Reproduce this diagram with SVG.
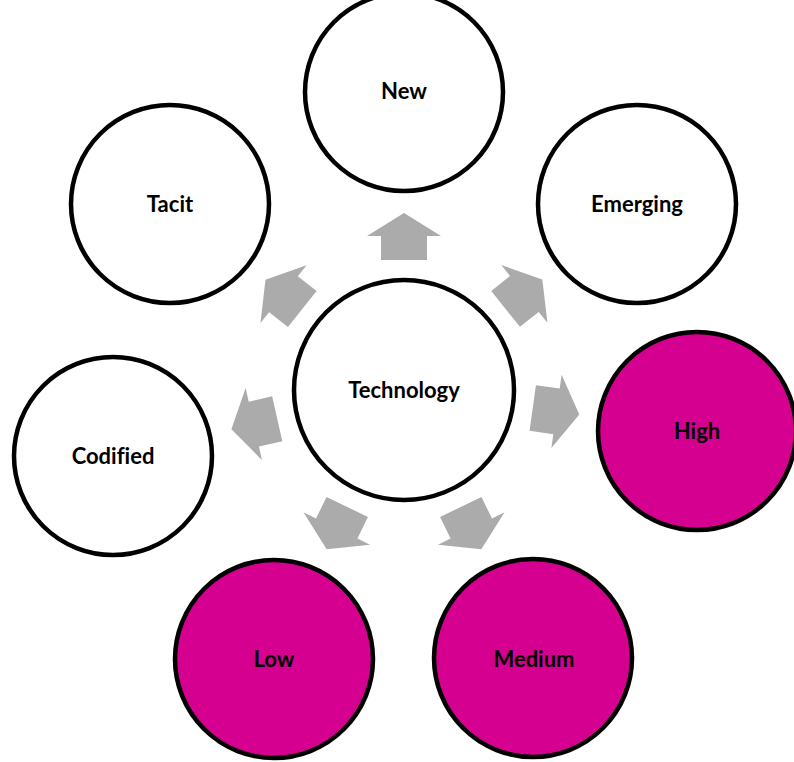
<svg xmlns="http://www.w3.org/2000/svg" xmlns:xlink="http://www.w3.org/1999/xlink" width="794" height="762" viewBox="0 0 794 762">
  <style>
    .node { stroke: #000000; stroke-width: 4.5; }
    .white { fill: #FFFFFF; }
    .pink { fill: #D5008F; }
    .label { font-family: Lato, "Liberation Sans", sans-serif; font-weight: bold; font-size: 22px; fill: #000000; text-anchor: middle; font-variant-ligatures: none; }
    .arrow { fill: #ABABAB; }
  </style>
  <defs>
    <polygon id="arr" class="arrow" points="130,-23 154,-23 154,-37 177,0 154,37 154,23 130,23"/>
  </defs>
  <rect x="0" y="0" width="794" height="762" fill="#FFFFFF"/>
  <g id="connectors">
    <use xlink:href="#arr" href="#arr" transform="translate(404,390) rotate(-90)"/>
    <use xlink:href="#arr" href="#arr" transform="translate(404,390) rotate(-38.6)"/>
    <use xlink:href="#arr" href="#arr" transform="translate(404,390) rotate(7.97)"/>
    <use xlink:href="#arr" href="#arr" transform="translate(404,390) rotate(64.1)"/>
    <use xlink:href="#arr" href="#arr" transform="translate(404,390) rotate(115.9)"/>
    <use xlink:href="#arr" href="#arr" transform="translate(404,390) rotate(167.2)"/>
    <use xlink:href="#arr" href="#arr" transform="translate(404,390) rotate(-141.5)"/>
  </g>
  <g id="technology">
    <circle class="node white" cx="404" cy="390" r="110"/>
    <text class="label" x="404" y="390" dy="0.35em">Technology</text>
  </g>
  <g id="new">
    <circle class="node white" cx="404" cy="92" r="99"/>
    <text class="label" x="404" y="91" dy="0.35em">New</text>
  </g>
  <g id="emerging">
    <circle class="node white" cx="637" cy="204" r="99"/>
    <text class="label" x="637" y="204" dy="0.35em">Emerging</text>
  </g>
  <g id="high">
    <circle class="node pink" cx="697" cy="431" r="99"/>
    <text class="label" x="697" y="431" dy="0.35em">High</text>
  </g>
  <g id="medium">
    <circle class="node pink" cx="533" cy="658" r="99"/>
    <text class="label" x="534" y="659" dy="0.35em">Medium</text>
  </g>
  <g id="low">
    <circle class="node pink" cx="274" cy="659" r="99"/>
    <text class="label" x="274" y="659" dy="0.35em">Low</text>
  </g>
  <g id="codified">
    <circle class="node white" cx="113" cy="456" r="99"/>
    <text class="label" x="113" y="456" dy="0.35em">Codified</text>
  </g>
  <g id="tacit">
    <circle class="node white" cx="170" cy="204" r="99"/>
    <text class="label" x="170" y="204" dy="0.35em">Tacit</text>
  </g>
</svg>
